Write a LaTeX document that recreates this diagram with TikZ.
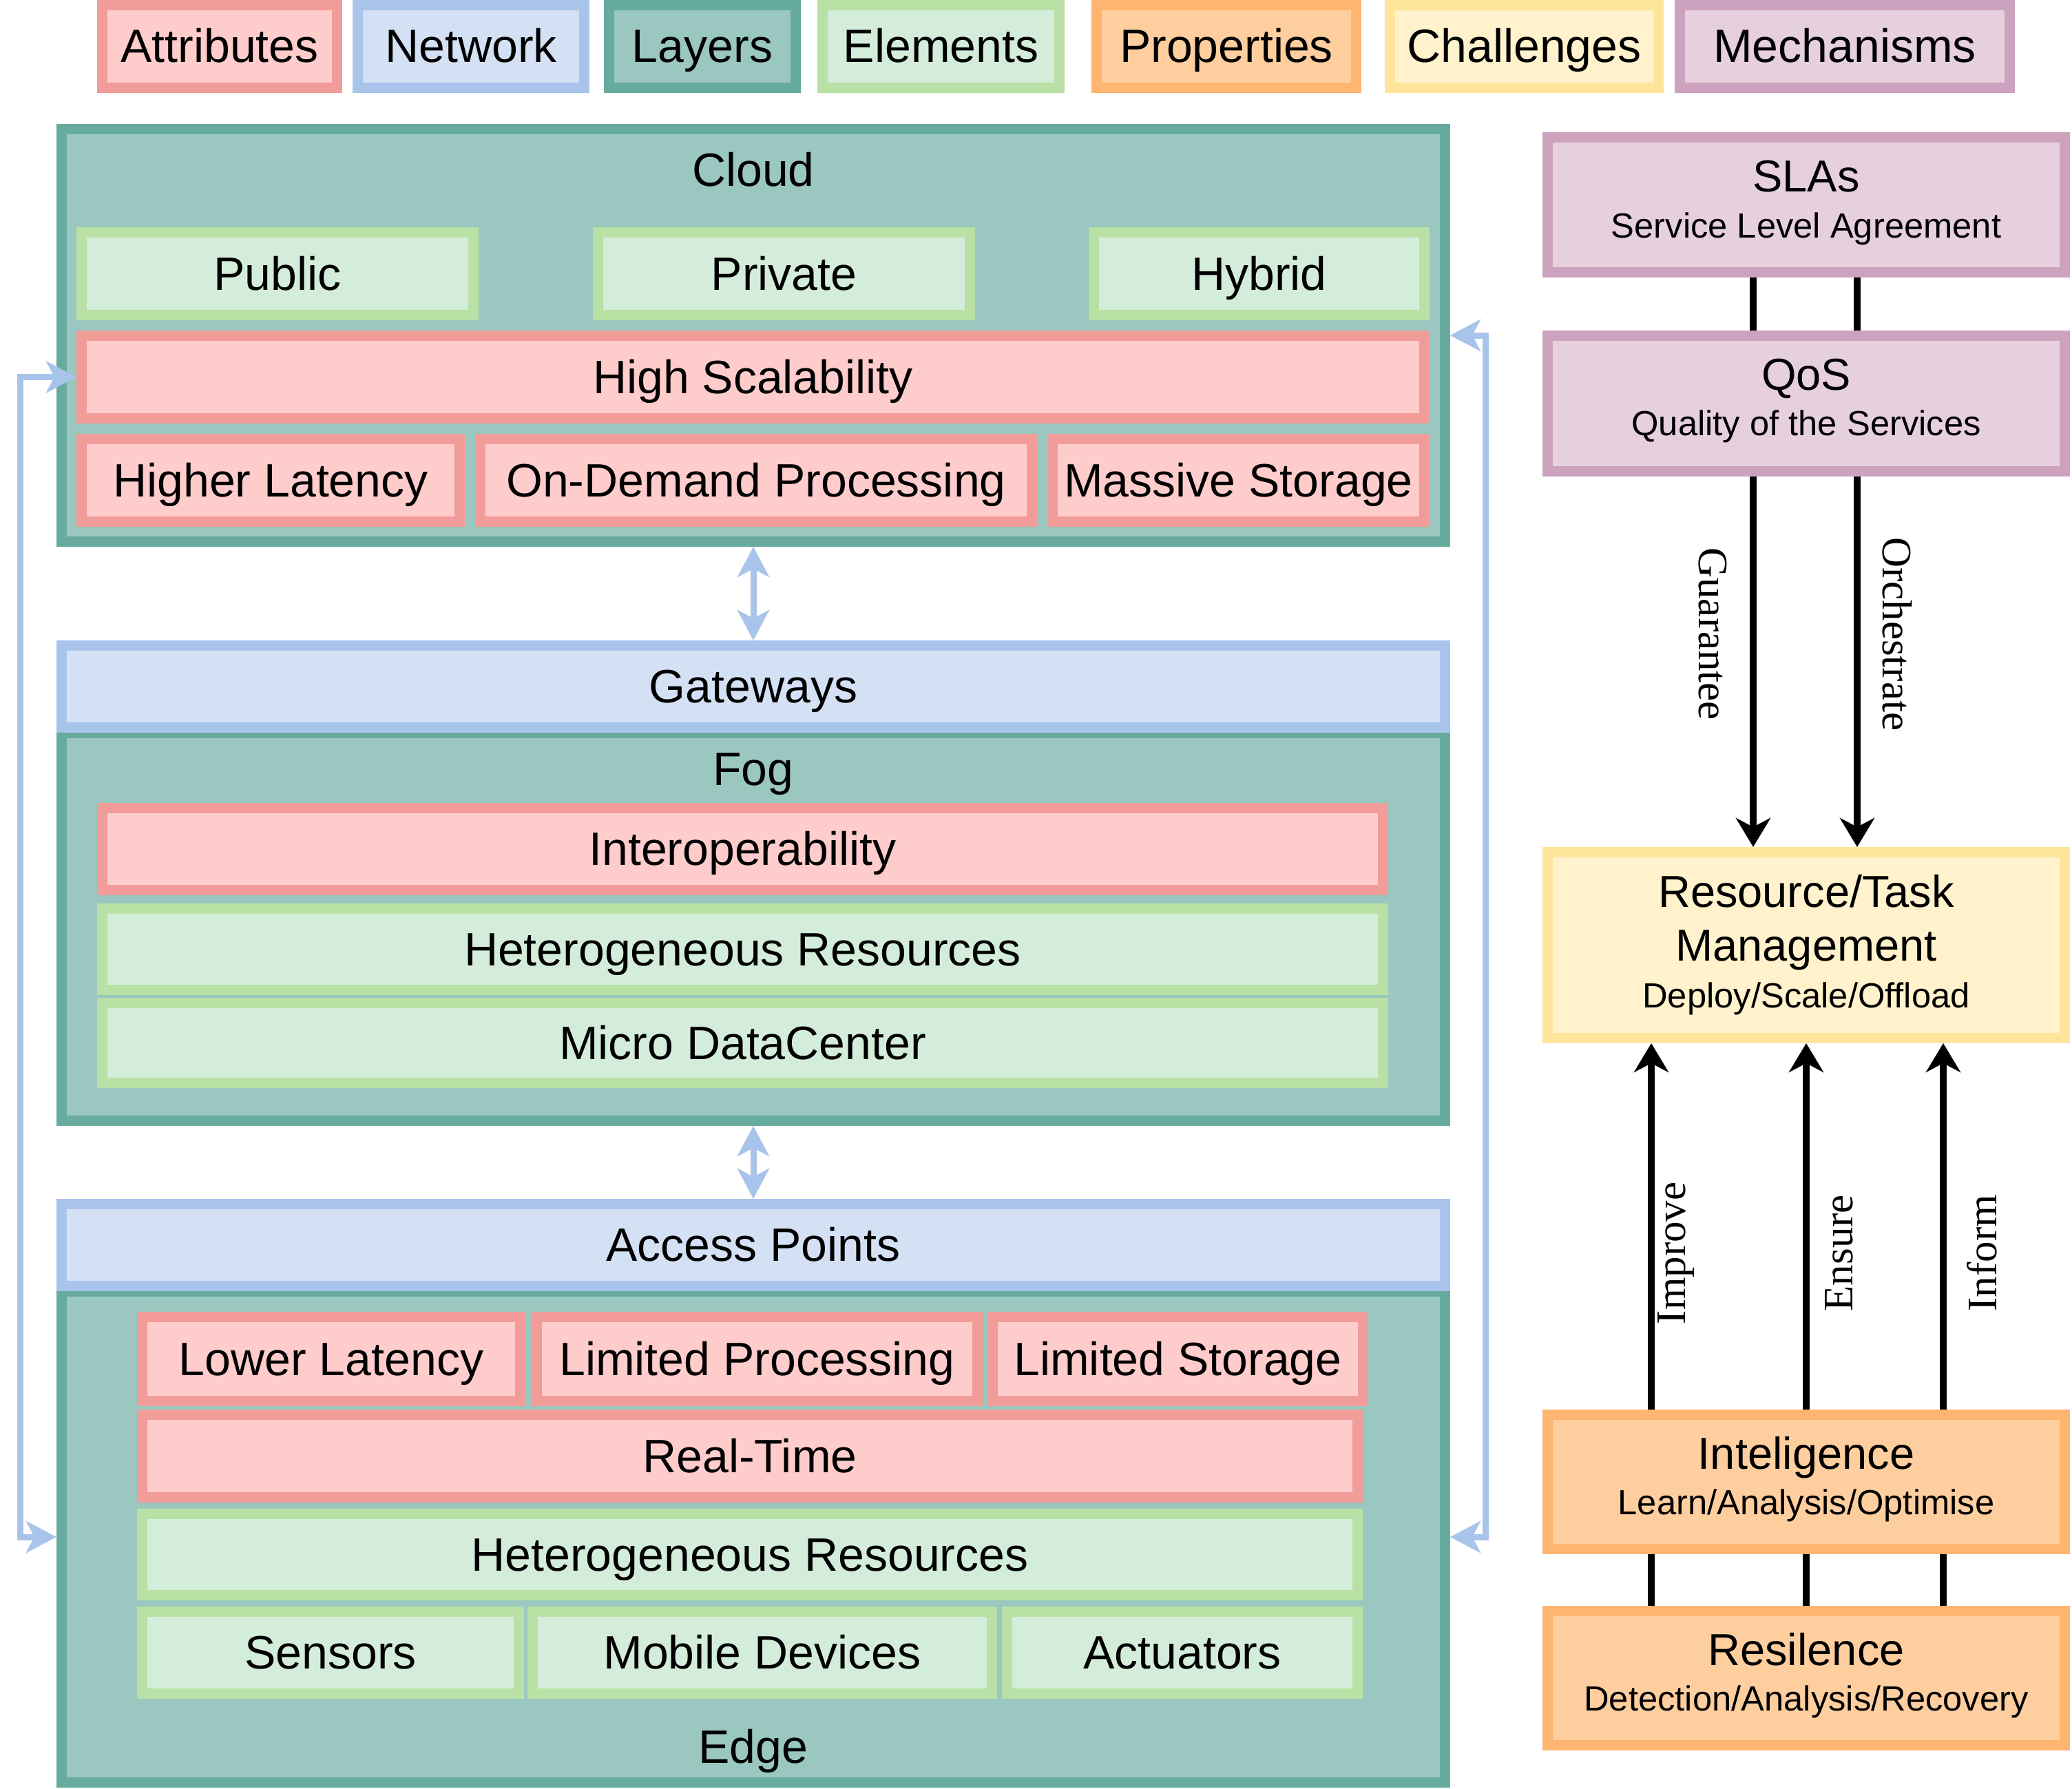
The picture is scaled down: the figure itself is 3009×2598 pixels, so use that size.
\documentclass[tikz,border=0pt]{standalone}
\usepackage{fontspec}
\setmainfont{Liberation Sans}
\newfontfamily\edgeserif{Liberation Serif}
\usetikzlibrary{arrows.meta,calc,backgrounds}
\definecolor{attrF}{HTML}{FFCCCC}\definecolor{attrD}{HTML}{F19C99}
\definecolor{netF}{HTML}{D4E1F5}\definecolor{netD}{HTML}{A9C4EB}
\definecolor{layF}{HTML}{9AC7BF}\definecolor{layD}{HTML}{67AB9F}
\definecolor{eleF}{HTML}{D4EDDA}\definecolor{eleD}{HTML}{B9E0A5}
\definecolor{proF}{HTML}{FFCE9F}\definecolor{proD}{HTML}{FFB570}
\definecolor{chaF}{HTML}{FFF2CC}\definecolor{chaD}{HTML}{FFE599}
\definecolor{mecF}{HTML}{E6D0DE}\definecolor{mecD}{HTML}{CDA2BE}
\newcommand\fsMain{\fontsize{68pt}{80pt}\selectfont}
\newcommand\fsTtl{\fontsize{65pt}{78pt}\selectfont}
\newcommand\fsSub{\fontsize{50.7pt}{60pt}\selectfont}
\newcommand\fsEdge{\edgeserif\fontsize{61pt}{72pt}\selectfont}
\newcommand\mybox[7]{%
  \pgfmathsetmacro\mbw{#5-#3-15}%
  \pgfmathsetmacro\mbh{#6-#4-15}%
  \pgfmathsetmacro\mbx{(#3+#5)/2}%
  \pgfmathsetmacro\mby{(#4+#6)/2}%
  \node[#1, minimum width=\mbw pt, minimum height=\mbh pt] (#2) at (\mbx,\mby) {#7};}
\tikzset{
  cell/.style={draw, line width=15pt, inner sep=0pt, outer sep=7.5pt, align=center,
    font=\fsMain, text height=47pt, text depth=0pt},
  attr/.style={cell, fill=attrF, draw=attrD},
  net/.style={cell, fill=netF, draw=netD},
  lay/.style={cell, fill=layF, draw=layD},
  elem/.style={cell, fill=eleF, draw=eleD},
  prop/.style={cell, fill=proF, draw=proD},
  chal/.style={cell, fill=chaF, draw=chaD},
  mech/.style={cell, fill=mecF, draw=mecD},
  lbl/.style={inner sep=0pt, anchor=base, font=\fsMain},
  ttl/.style={inner sep=0pt, anchor=base, font=\fsTtl},
  subt/.style={inner sep=0pt, anchor=base, font=\fsSub},
  elbl/.style={inner sep=0pt, font=\fsEdge},
  netlink/.style={draw=netD, line width=9pt,
    {Stealth[length=44pt,width=46pt,inset=12pt]}-{Stealth[length=44pt,width=46pt,inset=12pt]}},
  arr/.style={draw=black, line width=10pt, -{Stealth[length=42pt,width=50pt,inset=13pt]}}
}
\begin{document}
\begin{tikzpicture}[x=1pt,y=-1pt]
\useasboundingbox (0,0) rectangle (3009,2598);
% legend
\mybox{attr}{lgA}{141}{0}{497}{135}{Attributes}
\mybox{net}{lgN}{512}{0}{856}{135}{Network}
\mybox{lay}{lgL}{877}{0}{1163}{135}{Layers}
\mybox{elem}{lgE}{1187}{0}{1546}{135}{Elements}
\mybox{prop}{lgP}{1585}{0}{1977}{135}{Properties}
\mybox{chal}{lgC}{2011}{0}{2416}{135}{Challenges}
\mybox{mech}{lgM}{2432}{0}{2926}{135}{Mechanisms}
% cloud
\mybox{lay}{cloud}{82}{180}{2106}{794}{}
\node[lbl] (cloudt) at (1094,271) {Cloud};
\mybox{elem}{public}{111}{330}{695}{465}{Public}
\mybox{elem}{private}{861}{330}{1416}{465}{Private}
\mybox{elem}{hybrid}{1581}{330}{2076}{465}{Hybrid}
\mybox{attr}{hs}{111}{480}{2076}{615}{High Scalability}
\mybox{attr}{hl}{111}{630}{675}{765}{Higher Latency}
\mybox{attr}{odp}{690}{630}{1506}{765}{On-Demand Processing}
\mybox{attr}{ms}{1521}{630}{2076}{765}{Massive Storage}
% fog
\mybox{lay}{fog}{82}{1057}{2106}{1635}{}
\mybox{net}{gw}{82}{930}{2106}{1064}{Gateways}
\node[lbl] (fogt) at (1094,1140) {Fog};
\mybox{attr}{interop}{141}{1166}{2016}{1300}{Interoperability}
\mybox{elem}{hetfog}{141}{1312}{2016}{1445}{Heterogeneous Resources}
\mybox{elem}{mdc}{141}{1449}{2016}{1580}{Micro DataCenter}
% edge
\mybox{lay}{edge}{82}{1868}{2106}{2596}{}
\mybox{net}{ap}{82}{1741}{2106}{1875}{Access Points}
\node[lbl] (edget) at (1094,2560) {Edge};
\mybox{attr}{ll}{199}{1905}{763}{2042}{Lower Latency}
\mybox{attr}{lp}{772}{1905}{1427}{2042}{Limited Processing}
\mybox{attr}{ls}{1434}{1905}{1987}{2042}{Limited Storage}
\mybox{attr}{rt}{199}{2047}{1979}{2182}{Real-Time}
\mybox{elem}{hetedge}{199}{2191}{1979}{2324}{Heterogeneous Resources}
\mybox{elem}{sens}{199}{2333}{761}{2467}{Sensors}
\mybox{elem}{mob}{766}{2333}{1448}{2467}{Mobile Devices}
\mybox{elem}{act}{1455}{2333}{1979}{2467}{Actuators}
% right panel
\mybox{mech}{sla}{2240}{192}{3006}{403}{}
\node[ttl] (slat) at (2623,279) {SLAs};
\node[subt] (slas) at (2623,345) {Service Level Agreement};
\mybox{mech}{qos}{2240}{480}{3006}{692}{}
\node[ttl] (qost) at (2623,566) {QoS};
\node[subt] (qoss) at (2623,632) {Quality of the Services};
\mybox{chal}{res}{2240}{1230}{3006}{1515}{}
\node[ttl] (rest1) at (2623,1317) {Resource/Task};
\node[ttl] (rest2) at (2623,1395) {Management};
\node[subt] (ress) at (2623,1463) {Deploy/Scale/Offload};
\mybox{prop}{intel}{2240}{2047}{3006}{2257}{}
\node[ttl] (intelt) at (2623,2133) {Inteligence};
\node[subt] (intels) at (2623,2199) {Learn/Analysis/Optimise};
\mybox{prop}{resil}{2240}{2332}{3006}{2542}{}
\node[ttl] (resilt) at (2623,2418) {Resilence};
\node[subt] (resils) at (2623,2484) {Detection/Analysis/Recovery};
% black connectors (behind boxes)
\begin{pgfonlayer}{background}
\fill[white] (0,0) rectangle (3009,2598);
\draw[arr] ($(sla.south)+(-77,0)$) -- node[elbl, pos=0.626, xshift=-59pt, rotate=-90] {Guarantee} ($(res.north)+(-77,0)$);
\draw[arr] ($(sla.south)+(74,0)$) -- node[elbl, pos=0.626, xshift=58pt, rotate=-90] {Orchestrate} ($(res.north)+(74,0)$);
\draw[arr] ($(resil.north)+(-225,0)$) -- node[elbl, pos=0.627, xshift=36pt, rotate=90] {Improve} ($(res.south)+(-225,0)$);
\draw[arr] (resil.north) -- node[elbl, pos=0.627, xshift=48pt, rotate=90] {Ensure} (res.south);
\draw[arr] ($(resil.north)+(199,0)$) -- node[elbl, pos=0.627, xshift=56pt, rotate=90] {Inform} ($(res.south)+(199,0)$);
\end{pgfonlayer}
% blue connectors
\coordinate (lx) at (29,0);
\coordinate (rx) at (2157,0);
\draw[netlink] (cloud.south) -- (gw.north);
\draw[netlink] (fog.south) -- (ap.north);
\draw[netlink] (hs.west) -- (hs.west -| lx) |- (edge.west);
\draw[netlink] (cloud.east) -- (cloud.east -| rx) |- (edge.east);
\end{tikzpicture}
\end{document}
